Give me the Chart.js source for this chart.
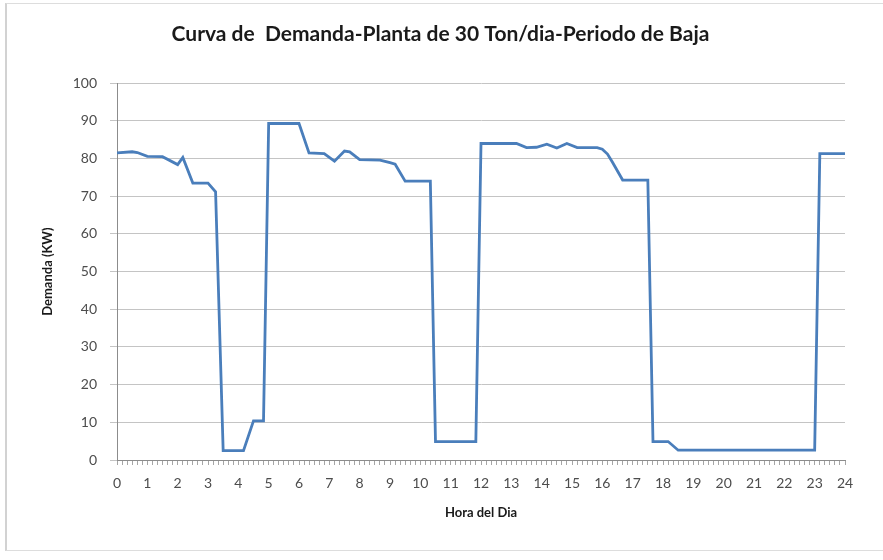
<!DOCTYPE html>
<html>
<head>
<meta charset="utf-8">
<script src="https://cdn.jsdelivr.net/npm/chart.js@4"></script>
<style>
  html, body { margin: 0; padding: 0; background: #fff; }
  #wrap { position: relative; width: 883px; height: 560px; overflow: hidden; }
  #frame {
    position: absolute; left: 5px; top: 3px; width: 900px; height: 546px;
    border-left: 2px solid #d2d2d2; border-top: 1px solid #dddddd; border-bottom: 1px solid #dddddd;
    pointer-events: none;
  }
  canvas { position: absolute; left: 0; top: 0; }
</style>
</head>
<body>
<div id="wrap">
  <canvas id="mainChart" width="883" height="560"></canvas>
  <div id="frame"></div>
</div>
<script>
// Breakpoints of the demand curve (hour of day, kW)
const hours = [
  0, 0.5, 0.67, 1.0, 1.5, 2.0, 2.17, 2.5, 3.0, 3.25, 3.5, 4.17, 4.5, 4.83,
  5.0, 6.0, 6.33, 6.83, 7.17, 7.5, 7.67, 8.0, 8.67, 9.0, 9.17, 9.5, 10.33,
  10.5, 11.83, 12.0, 13.17, 13.5, 13.83, 14.17, 14.5, 14.83, 15.17, 15.83,
  16.0, 16.17, 16.33, 16.67, 17.5, 17.67, 18.17, 18.5, 23.0, 23.17, 24.0
];
const demand = [
  81.5, 81.8, 81.6, 80.6, 80.5, 78.4, 80.3, 73.5, 73.5, 71.2, 2.5, 2.5, 10.4, 10.4,
  89.3, 89.3, 81.5, 81.3, 79.3, 82.0, 81.8, 79.7, 79.6, 78.9, 78.5, 74.0, 74.0,
  4.9, 4.9, 84.0, 84.0, 82.9, 83.0, 83.8, 82.8, 84.0, 82.9, 82.9,
  82.5, 81.2, 79.1, 74.3, 74.3, 4.9, 4.9, 2.6, 2.6, 81.3, 81.3
];

// x ticks every 10 minutes, labels only on whole hours
const xTicks = [];
for (let i = 0; i <= 144; i++) xTicks.push(i / 6);
const yTicks = [0, 10, 20, 30, 40, 50, 60, 70, 80, 90, 100];

const points = hours.map((h, i) => ({ x: h, y: demand[i] }));

const ctx = document.getElementById('mainChart').getContext('2d');

new Chart(ctx, {
  type: 'line',
  data: {
    datasets: [{
      label: 'Demanda',
      data: points,
      borderColor: '#4a7ebb',
      borderWidth: 2.8,
      pointRadius: 0,
      fill: false,
      tension: 0
    }]
  },
  options: {
    responsive: false,
    animation: false,
    layout: {
      padding: { left: 36, right: 38, top: 0, bottom: 35 }
    },
    plugins: {
      legend: { display: false },
      tooltip: { enabled: false },
      title: {
        display: true,
        text: 'Curva de  Demanda-Planta de 30 Ton/dia-Periodo de Baja',
        color: '#1a1a1a',
        font: { family: 'Lato', size: 21, weight: 'bold' },
        padding: { top: 22, bottom: 36 }
      }
    },
    scales: {
      x: {
        type: 'linear',
        min: 0,
        max: 24,
        afterBuildTicks: (scale) => {
          scale.ticks = xTicks.map(v => ({ value: v }));
        },
        afterFit: (scale) => { scale.height = 65; },
        ticks: {
          autoSkip: false,
          maxRotation: 0,
          minRotation: 0,
          padding: 10,
          color: '#4d4d4d',
          font: { family: 'Lato', size: 14 },
          callback: function(value) {
            const r = Math.round(value);
            return Math.abs(value - r) < 1e-6 ? String(r) : '';
          }
        },
        grid: {
          drawOnChartArea: false,
          tickLength: 5,
          color: '#a6a6a6'
        },
        border: { color: '#8c8c8c' },
        title: {
          display: true,
          text: 'Hora del Dia',
          color: '#1a1a1a',
          font: { family: 'Lato', size: 13, weight: 'bold' }
        }
      },
      y: {
        min: 0,
        max: 100,
        afterBuildTicks: (scale) => {
          scale.ticks = yTicks.map(v => ({ value: v }));
        },
        afterFit: (scale) => { scale.width = 81; },
        ticks: {
          padding: 13,
          color: '#4d4d4d',
          font: { family: 'Lato', size: 14 }
        },
        grid: {
          color: '#c4c4c4',
          tickLength: 7
        },
        border: { color: '#8c8c8c' },
        title: {
          display: true,
          text: 'Demanda (KW)',
          color: '#1a1a1a',
          font: { family: 'Lato', size: 13, weight: 'bold' }
        }
      }
    }
  }
});
</script>
</body>
</html>
